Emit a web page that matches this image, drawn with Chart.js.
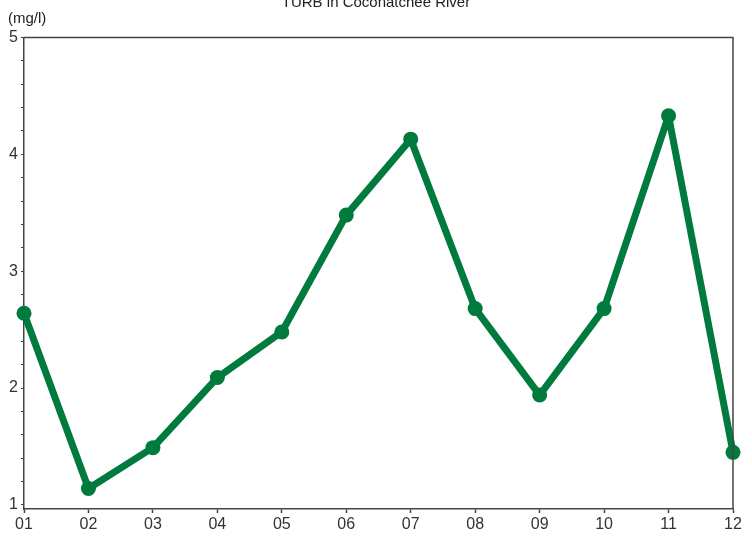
<!DOCTYPE html>
<html>
<head>
<meta charset="utf-8">
<script src="https://cdn.jsdelivr.net/npm/chart.js@4.4.1/dist/chart.umd.min.js"></script>
<style>
  html, body { margin: 0; padding: 0; background: #fff; }
  #wrap { width: 752px; height: 542px; }
</style>
</head>
<body>
<div id="wrap"><canvas id="myChart" width="752" height="542"></canvas></div>
<script>
'use strict';

let months = ['01', '02', '03', '04', '05', '06', '07', '08', '09', '10', '11', '12'];
let turbValues = [2.64, 1.14, 1.49, 2.09, 2.48, 3.48, 4.13, 2.68, 1.94, 2.68, 4.33, 1.45];
let yMajorTicks = [1, 2, 3, 4, 5];
let chartTitle = 'TURB in Coconatchee River';
let unitLabel = '(mg/l)';

let lineGreen = '#007a3d';
let axisGrey = '#444';
let fontName = '"Liberation Sans", Arial, sans-serif';

// title, unit and the closed frame round the plot
let framePlugin = {
  id: 'framePlugin',
  afterDraw(chart) {
    let ctx = chart.ctx;
    let area = chart.chartArea;
    ctx.save();
    ctx.strokeStyle = axisGrey;
    ctx.lineWidth = 1.5;
    ctx.beginPath();
    ctx.moveTo(area.left, area.top);
    ctx.lineTo(area.right, area.top);
    ctx.lineTo(area.right, area.bottom);
    ctx.stroke();

    ctx.fillStyle = '#222';
    ctx.font = '15px ' + fontName;
    ctx.textAlign = 'center';
    ctx.textBaseline = 'alphabetic';
    ctx.fillText(chartTitle, 376, 7);
    ctx.textAlign = 'left';
    ctx.fillText(unitLabel, 8, 23);
    ctx.restore();
  }
};

let ctx = document.getElementById('myChart').getContext('2d');
let myChart = new Chart(ctx, {
  type: 'line',
  data: {
    labels: months,
    datasets: [
      {
        label: 'TURB',
        data: turbValues,
        borderColor: lineGreen,
        backgroundColor: lineGreen,
        borderWidth: 7,
        borderJoinStyle: 'round',
        borderCapStyle: 'round',
        pointRadius: 7.5,
        pointHoverRadius: 7.5,
        pointBorderWidth: 0,
        tension: 0,
        clip: false
      }
    ]
  },
  options: {
    responsive: false,
    animation: false,
    events: [],
    layout: {
      padding: { top: 37.5, right: 19, left: 0, bottom: 0 }
    },
    plugins: {
      legend: { display: false },
      tooltip: { enabled: false }
    },
    scales: {
      x: {
        offset: false,
        grid: {
          drawOnChartArea: false,
          tickLength: 4,
          tickColor: axisGrey,
          tickWidth: 1.5
        },
        border: { color: axisGrey, width: 1.5 },
        ticks: {
          color: '#333',
          padding: 2,
          maxRotation: 0,
          autoSkip: false,
          font: { family: fontName, size: 16 }
        },
        afterFit(scale) { scale.height = 33; }
      },
      y: {
        min: 0.965,
        max: 5,
        afterBuildTicks(scale) {
          let list = [];
          for (let i = 10; i <= 50; i++) {
            list.push({ value: i / 10 });
          }
          scale.ticks = list;
        },
        grid: {
          drawOnChartArea: false,
          tickLength: 3,
          tickColor: axisGrey,
          tickWidth: 1
        },
        border: { color: axisGrey, width: 1.5 },
        ticks: {
          color: '#333',
          padding: 3,
          font: { family: fontName, size: 16 },
          callback: function (value) {
            let v = Math.round(value * 10) / 10;
            return yMajorTicks.includes(v) ? String(v) : '';
          }
        },
        afterFit(scale) { scale.width = 24; }
      }
    }
  },
  plugins: [framePlugin]
});
</script>
</body>
</html>
